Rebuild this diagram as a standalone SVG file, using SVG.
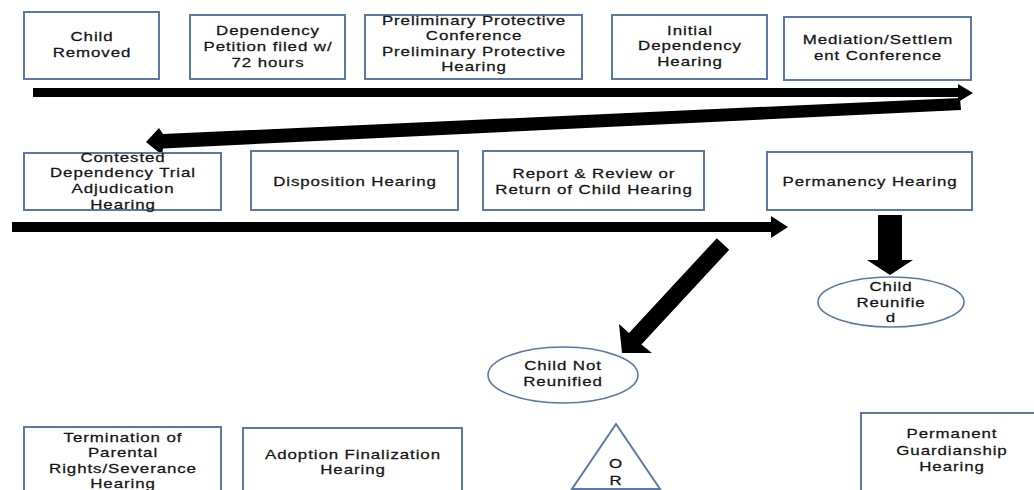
<svg xmlns="http://www.w3.org/2000/svg" width="1034" height="490" viewBox="0 0 1034 490">
<style>
.box{fill:#fff;stroke:#5b79a3;stroke-width:2}
.ell{fill:#fff;stroke:#5b79a3;stroke-width:1.6}
.t{font-family:"Liberation Sans",Arial,sans-serif;font-size:13px;letter-spacing:0.7px;fill:#151515;text-anchor:middle;stroke:#151515;stroke-width:0.25}
.arr{fill:#000}
</style>
<rect width="1034" height="490" fill="#fff"/>
<g id="connectors">
<polygon class="arr" points="33,88 958,88 958,84 973,93 958,102 958,97 33,97"/>
<polygon class="arr" points="960,98 961,110 163,148.5 162,155 146,142 159,128 163,134"/>
<polygon class="arr" points="12,222 771,222 771,216 788,227 771,238 771,232 12,232"/>
<polygon class="arr" points="878,215 902,215 902,260 913,260 890,275 867,260 878,260"/>
<polygon class="arr" points="716.8,238.2 729.2,249.8 641.4,344.6 652,353 622,353 619,324 629,333"/>
</g>
<g id="child-removed"><rect class="box" x="24" y="12" width="135" height="67"/>
<text class="t" transform="translate(92 0) scale(1.3 1)"><tspan x="0" y="41">Child</tspan><tspan x="0" y="57">Removed</tspan></text></g>
<g id="dependency-petition"><rect class="box" x="190" y="15" width="155" height="64"/>
<text class="t" transform="translate(268 0) scale(1.3 1)"><tspan x="0" y="35">Dependency</tspan><tspan x="0" y="51">Petition filed w/</tspan><tspan x="0" y="67">72 hours</tspan></text></g>
<g id="preliminary-protective"><rect class="box" x="365" y="15" width="217" height="64"/>
<text class="t" transform="translate(474 0) scale(1.3 1)"><tspan x="0" y="25">Preliminary Protective</tspan><tspan x="0" y="40">Conference</tspan><tspan x="0" y="56">Preliminary Protective</tspan><tspan x="0" y="71">Hearing</tspan></text></g>
<g id="initial-dependency"><rect class="box" x="612" y="15" width="155" height="64"/>
<text class="t" transform="translate(690 0) scale(1.3 1)"><tspan x="0" y="35">Initial</tspan><tspan x="0" y="50">Dependency</tspan><tspan x="0" y="66">Hearing</tspan></text></g>
<g id="mediation"><rect class="box" x="784" y="17" width="187" height="63"/>
<text class="t" transform="translate(878 0) scale(1.3 1)"><tspan x="0" y="44">Mediation/Settlem</tspan><tspan x="0" y="60">ent Conference</tspan></text></g>
<g id="contested-trial"><rect class="box" x="24" y="153" width="197" height="57"/>
<text class="t" transform="translate(123 0) scale(1.3 1)"><tspan x="0" y="162">Contested</tspan><tspan x="0" y="177">Dependency Trial</tspan><tspan x="0" y="193">Adjudication</tspan><tspan x="0" y="209">Hearing</tspan></text></g>
<g id="disposition"><rect class="box" x="251" y="151" width="207" height="59"/>
<text class="t" transform="translate(355 0) scale(1.3 1)"><tspan x="0" y="186">Disposition Hearing</tspan></text></g>
<g id="report-review"><rect class="box" x="483" y="151" width="221" height="59"/>
<text class="t" transform="translate(594 0) scale(1.3 1)"><tspan x="0" y="178">Report &amp; Review or</tspan><tspan x="0" y="194">Return of Child Hearing</tspan></text></g>
<g id="permanency"><rect class="box" x="767" y="152" width="205" height="58"/>
<text class="t" transform="translate(870 0) scale(1.3 1)"><tspan x="0" y="186">Permanency Hearing</tspan></text></g>
<g id="child-reunified"><ellipse class="ell" cx="891" cy="302" rx="73" ry="25"/>
<text class="t" transform="translate(891 0) scale(1.3 1)"><tspan x="0" y="291">Child</tspan><tspan x="0" y="307">Reunifie</tspan><tspan x="0" y="322">d</tspan></text></g>
<g id="child-not-reunified"><ellipse class="ell" cx="563" cy="375" rx="75" ry="28"/>
<text class="t" transform="translate(563 0) scale(1.3 1)"><tspan x="0" y="370">Child Not</tspan><tspan x="0" y="386">Reunified</tspan></text></g>
<g id="termination"><rect class="box" x="24" y="427" width="197" height="70"/>
<text class="t" transform="translate(123 0) scale(1.3 1)"><tspan x="0" y="442">Termination of</tspan><tspan x="0" y="457">Parental</tspan><tspan x="0" y="473">Rights/Severance</tspan><tspan x="0" y="488">Hearing</tspan></text></g>
<g id="adoption"><rect class="box" x="243" y="428" width="219" height="70"/>
<text class="t" transform="translate(353 0) scale(1.3 1)"><tspan x="0" y="459">Adoption Finalization</tspan><tspan x="0" y="474">Hearing</tspan></text></g>
<g id="or"><polygon class="box" points="616,424 572,489 660,489"/>
<text class="t" transform="translate(616 0) scale(1.3 1)"><tspan x="0" y="468">O</tspan><tspan x="0" y="485">R</tspan></text></g>
<g id="guardianship"><rect class="box" x="861" y="413" width="180" height="85"/>
<text class="t" transform="translate(952 0) scale(1.3 1)"><tspan x="0" y="438">Permanent</tspan><tspan x="0" y="455">Guardianship</tspan><tspan x="0" y="471">Hearing</tspan></text></g>
</svg>
